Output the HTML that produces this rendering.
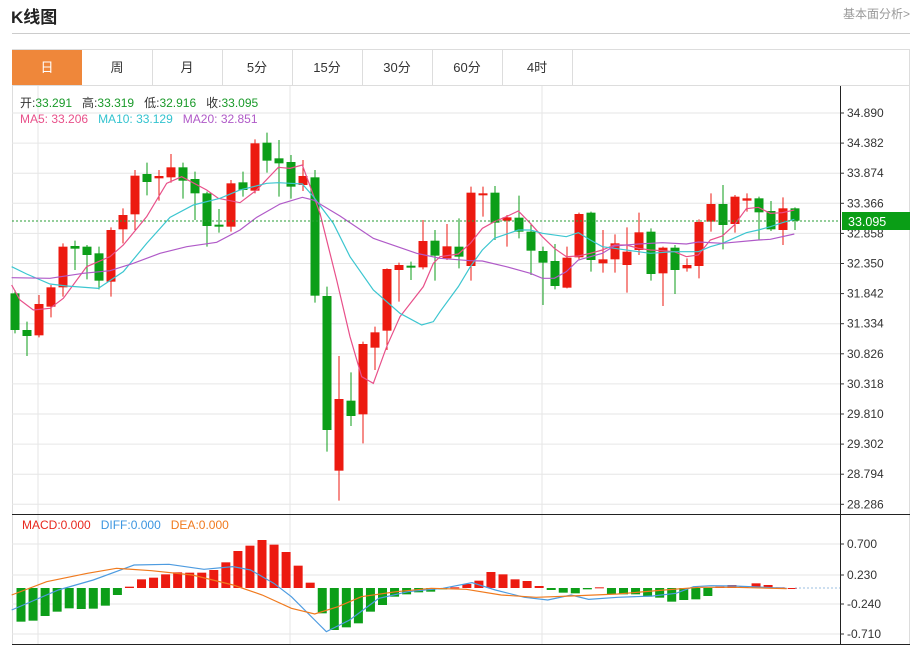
<!DOCTYPE html>
<html><head><meta charset="utf-8"><style>
body{margin:0;width:916px;height:648px;background:#fff;overflow:hidden;font-family:"Liberation Sans","Noto Sans CJK SC",sans-serif;position:relative}
.abs{position:absolute;white-space:nowrap}
</style></head><body>
<div class="abs" style="left:11px;top:3px;font-size:17px;font-weight:bold;color:#222">K线图</div>
<div class="abs" style="left:843px;top:5px;font-size:12px;color:#999">基本面分析&gt;</div>
<div class="abs" style="left:12px;top:33px;width:898px;height:1px;background:#ccc"></div>
<svg class="abs" style="left:0;top:0" width="916" height="648" id="s" xmlns="http://www.w3.org/2000/svg">
<rect x="12.5" y="49.5" width="897" height="595" fill="none" stroke="#ddd"/>
<rect x="12" y="50" width="70" height="35" fill="#ef873a"/>
<g stroke="#ddd"><line x1="152.5" y1="50" x2="152.5" y2="85"/><line x1="222.5" y1="50" x2="222.5" y2="85"/><line x1="292.5" y1="50" x2="292.5" y2="85"/><line x1="362.5" y1="50" x2="362.5" y2="85"/><line x1="432.5" y1="50" x2="432.5" y2="85"/><line x1="502.5" y1="50" x2="502.5" y2="85"/><line x1="572.5" y1="50" x2="572.5" y2="85"/><line x1="12" y1="85.5" x2="910" y2="85.5"/></g>
<g font-size="13" text-anchor="middle" fill="#333"><text x="47" y="72" fill="#fff">日</text><text x="117" y="72">周</text><text x="187" y="72">月</text><text x="257" y="72">5分</text><text x="327" y="72">15分</text><text x="397" y="72">30分</text><text x="467" y="72">60分</text><text x="537" y="72">4时</text></g>
<g id="grid" stroke="#e6e6e6"></g>
<g id="cand"></g>
<g id="ma" fill="none" stroke-width="1.2"></g>
<line x1="12" y1="221" x2="840" y2="221" stroke="#2a9d35" stroke-dasharray="2,2"/>
<g stroke="#222"><line x1="840.5" y1="86" x2="840.5" y2="645"/><line x1="12" y1="514.5" x2="910" y2="514.5"/><line x1="12" y1="644.5" x2="910" y2="644.5"/></g>
<g id="yl" font-size="12" fill="#333"></g>
<rect x="842" y="212" width="68" height="18" fill="#0a9e16"/>
<text x="848" y="226" font-size="12.5" fill="#fff">33.095</text>
<g id="macd"></g>
<line x1="795" y1="588" x2="840" y2="588" stroke="#9bbfe0" stroke-dasharray="2,2"/>
<g font-size="12" fill="#333"><line x1="840" y1="544" x2="844" y2="544" stroke="#333"/><text x="847" y="548">0.700</text><line x1="840" y1="575" x2="844" y2="575" stroke="#333"/><text x="847" y="579">0.230</text><line x1="840" y1="604" x2="844" y2="604" stroke="#333"/><text x="847" y="608">-0.240</text><line x1="840" y1="634" x2="844" y2="634" stroke="#333"/><text x="847" y="638">-0.710</text></g>
</svg>
<div class="abs" style="left:20px;top:94px;font-size:12px;color:#333">开:<span style="color:#1a9a2a">33.291</span>&nbsp;&nbsp; 高:<span style="color:#1a9a2a">33.319</span>&nbsp;&nbsp; 低:<span style="color:#1a9a2a">32.916</span>&nbsp;&nbsp; 收:<span style="color:#1a9a2a">33.095</span></div>
<div class="abs" style="left:20px;top:112px;font-size:12px"><span style="color:#e8508a">MA5: 33.206</span>&nbsp;&nbsp; <span style="color:#33c3cf">MA10: 33.129</span>&nbsp;&nbsp; <span style="color:#b05ac8">MA20: 32.851</span></div>
<div class="abs" style="left:22px;top:518px;font-size:12px"><span style="color:#e8281e">MACD:0.000</span>&nbsp;&nbsp; <span style="color:#3b95e0">DIFF:0.000</span>&nbsp;&nbsp; <span style="color:#f07a1e">DEA:0.000</span></div>
<script>
var NS="http://www.w3.org/2000/svg";
function el(p,t,a){var e=document.createElementNS(NS,t);for(var k in a)e.setAttribute(k,a[k]);document.getElementById(p).appendChild(e);return e;}
var labs=["34.890","34.382","33.874","33.366","32.858","32.350","31.842","31.334","30.826","30.318","29.810","29.302","28.794","28.286"];
for(var i=0;i<14;i++){var y=113+i*30.1;el("grid","line",{x1:12,x2:840,y1:y,y2:y});el("yl","line",{x1:840,x2:844,y1:y,y2:y,stroke:"#333"});el("yl","text",{x:847,y:y+4}).textContent=labs[i];}
[38,290,542].forEach(function(x){el("grid","line",{x1:x,x2:x,y1:86,y2:644});});
el("grid","line",{x1:12,x2:840,y1:544,y2:544});el("grid","line",{x1:12,x2:840,y1:575,y2:575});el("grid","line",{x1:12,x2:840,y1:604,y2:604});el("grid","line",{x1:12,x2:840,y1:634,y2:634});
var C=[
["G",490,600,480,610],["G",600,618,575,678],["R",522,616,495,622],["R",472,530,465,562],["R",350,472,340,500],["G",348,356,332,420],["G",350,375,345,448],["G",370,452,350,478],["R",300,455,292,500],["R",255,298,235,340],["R",137,253,120,300],["G",132,156,98,196],["R",138,145,120,212],["R",112,142,72,158],["G",112,152,98,206],["G",147,190,125,270],["G",190,288,185,350],["G",284,290,237,308],["R",160,290,150,305],["G",157,180,125,200],["R",40,182,28,190],["G",38,92,8,128],["G",85,100,30,200],["G",96,170,75,206],["R",138,165,90,183],["G",142,497,120,518],["G",498,900,470,965],["R",807,1022,678,1112],["G",812,858,727,888],["R",642,853,635,940],["R",607,653,590,720],["R",417,602,415,660],["R",405,420,398,515],["G",407,412,395,450],["R",333,412,270,418],["G",332,377,300,452],
["R",349,385,282,390],["G",350,380,265,415],["R",188,408,170,452],["R",190,195,170,260],["G",188,278,168,330],["R",262,272,255,350],["G",263,305,197,325],["G",305,362,280,435],["G",363,398,350,525],["G",393,468,342,478],["R",383,473,350,475],["R",252,382,248,388],["G",248,390,245,425],["R",388,400,300,428],["R",340,388,313,428],["R",365,405,292,488],["R",307,360,248,375],["G",305,432,295,452],["R",353,430,350,528],["G",353,420,345,492],["R",405,415,385,425],["R",276,408,268,445],["R",222,275,190,305],["G",222,285,165,358],["R",200,282,195,308],["R",205,212,190,245],["G",205,247,200,330],["G",243,298,213,303],["R",235,300,202,345],["G",235,272,232,300]];
var RC="#ec1a10",GC="#0c9e18";
C.forEach(function(c,i){var x=15+12*i,col=c[0]=="R"?RC:GC;var f=function(v){return 130+v/3;};
el("cand","line",{x1:x,x2:x,y1:f(c[3]),y2:f(c[4]),stroke:col,"stroke-width":1});
var t=f(c[1]),b=f(c[2]);if(b-t<2)b=t+2;el("cand","rect",{x:x-4.5,y:t,width:9,height:b-t,fill:col});});
function pl(pts2,pts3,col){var s=[];pts2.forEach(function(p){s.push((p[0]/3)+","+(130+p[1]/3));});pts3.forEach(function(p){s.push((440+p[0]/3)+","+(130+p[1]/3));});el("ma","polyline",{points:s.join(" "),stroke:col});}
pl([[35,465],[60,510],[100,540],[150,535],[190,505],[260,410],[330,380],[370,345],[440,260],[500,160],[545,140],[620,180],[655,205],[720,218],[770,180],[835,112],[870,115],[907,105],[960,250],[1010,450],[1050,620],[1085,740],[1120,760],[1160,650],[1200,560],[1270,470],[1300,400]],
[[0,380],[55,372],[91,340],[127,295],[163,275],[199,260],[235,243],[271,280],[307,320],[343,355],[379,380],[415,378],[451,370],[487,360],[523,345],[559,345],[595,355],[631,360],[667,362],[703,365],[739,380],[775,375],[811,330],[847,318],[883,285],[919,236],[955,232],[991,250],[1027,248],[1063,240]],"#e8508a");
pl([[35,410],[80,432],[150,462],[200,468],[295,475],[370,425],[440,340],[510,262],[580,225],[660,205],[720,180],[800,160],[835,158],[870,160],[907,162],[940,200],[1000,280],[1050,380],[1120,480],[1200,550],[1265,585],[1300,575]],
[[0,545],[55,470],[91,410],[127,360],[163,325],[235,300],[271,300],[307,310],[379,320],[415,308],[451,330],[487,350],[523,355],[595,365],[631,370],[703,365],[775,365],[811,350],[847,340],[919,308],[955,300],[991,290],[1027,278],[1063,268]],"#3cc6d0");
pl([[35,443],[150,445],[250,430],[330,422],[400,400],[480,370],[560,350],[650,337],[720,300],[770,262],[840,222],[907,202],[940,210],[1020,258],[1120,325],[1250,370]],
[[0,385],[91,392],[127,393],[199,410],[271,430],[307,445],[343,445],[379,425],[415,390],[451,380],[487,370],[523,348],[595,342],[667,338],[739,342],[775,336],[847,340],[955,330],[991,328],[1063,312]],"#b05ac8");
var M=[335,332,318,305,295,297,296,287,255,230,208,203,193,187,188,188,180,157,123,107,90,104,126,167,218,310,360,352,340,305,285,260,253,247,245,238,232,222,212,186,193,208,213,228,240,248,250,238,232,252,253,253,260,263,275,270,268,258,230,225,228,220,225,232,234];
M.forEach(function(v,i){var x=21+12.05*i,y=510+v/3,z=588;var col=v>235?GC:RC;var t=Math.min(y,z),h=Math.max(Math.abs(y-z),1);el("macd","rect",{x:x-4.5,y:t,width:9,height:h,fill:col});});
function ml(p,col){el("macd","polyline",{points:p.map(function(q){return (q[0]/1.716)+","+(510+q[1]/3);}).join(" "),fill:"none",stroke:col,"stroke-width":1.2});}
ml([[20,300],[60,270],[100,240],[160,210],[230,165],[290,163],[350,178],[400,170],[430,180],[470,220],[500,260],[540,330],[560,365],[600,330],[650,265],[700,245],[760,235],[810,218],[850,240],[900,262],[940,270],[980,255],[1010,268],[1060,262],[1120,258],[1160,250],[1190,230],[1220,227],[1260,228],[1350,235]],"#4d9be0");
ml([[20,255],[80,215],[150,190],[200,175],[260,182],[330,195],[400,225],[450,255],[500,295],[540,312],[580,290],[620,260],[680,245],[740,235],[800,238],[860,255],[920,262],[980,258],[1060,252],[1140,240],[1200,232],[1260,232],[1350,236]],"#f07a1e");
</script>
</body></html>
